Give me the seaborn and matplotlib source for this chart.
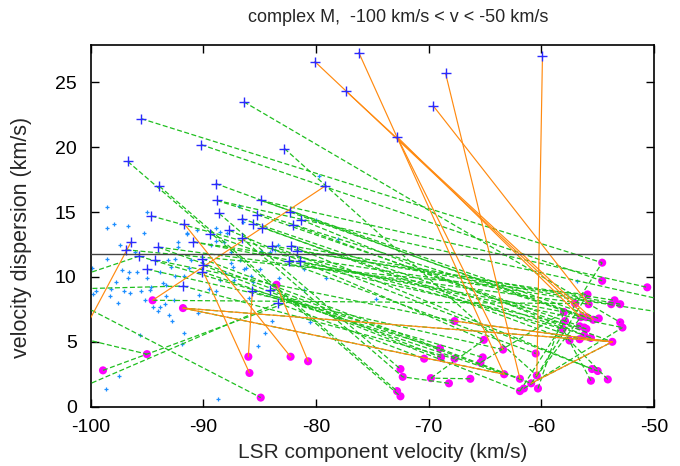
import numpy as np
import pandas as pd
import matplotlib
matplotlib.use("Agg")
import matplotlib.pyplot as plt
import seaborn as sns

# light blue field points (velocity, dispersion)
field_v = [-98.5, -97.9, -98.5, -96.7, -95.3, -95.0, -97.4, -96.1, -98.5, -99.9,
           -97.2, -96.6, -95.9, -97.7, -96.7, -95.0, -99.5, -98.2, -97.0, -95.5,
           -94.6, -93.3, -93.1, -93.8, -92.5, -92.2, -91.4, -90.6, -92.2, -92.9,
           -92.5, -91.3, -91.7, -93.6, -91.1, -99.8, -98.3, -96.5, -97.6, -95.2,
           -94.7, -93.3, -94.5, -93.8, -93.4, -94.0, -93.0, -92.8, -95.6, -91.7,
           -91.9, -92.6, -97.5, -98.6, -88.7, -90.5, -85.9, -83.9, -84.5, -85.1,
           -80.5, -81.1, -86.8, -80.0, -88.2, -87.5, -84.9, -84.1, -83.6, -83.4,
           -86.7, -87.4, -86.4, -85.0, -88.1, -87.3, -85.8, -83.3, -79.1, -78.0,
           -81.1, -88.5, -87.5, -86.2, -85.6, -74.7, -89.3, -88.9, -91.4, -88.9,
           -88.5, -87.9, -79.7, -86.5, -56.8, -89.5, -90.4, -88.9]
field_s = [15.4, 14.1, 13.8, 13.9, 13.4, 15.0, 12.5, 11.9, 11.4, 10.7,
           10.5, 10.4, 10.4, 9.6, 9.9, 9.9, 8.9, 9.1, 8.9, 8.9,
           9.2, 9.4, 11.3, 10.4, 11.4, 12.7, 13.4, 13.6, 12.3, 10.8,
           10.1, 10.7, 10.1, 9.5, 11.3, 8.7, 8.5, 8.8, 8.0, 8.2,
           9.0, 8.5, 7.7, 7.7, 7.9, 7.4, 7.1, 6.6, 5.5, 5.7,
           4.8, 8.2, 2.4, 1.4, 0.6, 7.2, 8.4, 6.6, 5.7, 4.7,
           6.5, 9.0, 15.5, 14.4, 12.7, 11.9, 12.0, 11.9, 12.1, 12.5,
           11.3, 10.8, 10.6, 10.6, 10.3, 9.8, 10.1, 9.9, 9.9, 12.9,
           10.6, 9.8, 11.1, 10.7, 9.6, 8.3, 12.5, 12.8, 13.3, 13.8,
           13.5, 13.4, 17.8, 14.2, 9.7, 9.1, 8.6, 8.9]

# first-epoch components (dark blue crosses)
start_v = [-80.1, -76.2, -77.3, -86.4, -95.5, -90.2, -82.8, -96.7, -88.9, -93.9,
           -79.2, -88.8, -84.9, -94.6, -88.6, -85.2, -82.3, -86.6, -81.3, -85.6,
           -84.8, -82.0, -91.7, -89.4, -87.7, -86.6, -59.9, -68.5, -69.6, -72.8,
           -96.4, -96.9, -94.0, -95.7, -95.0, -94.3, -90.9, -90.1, -90.0, -90.1,
           -91.8, -83.9, -82.2, -81.7, -82.4, -81.4, -85.7, -84.1, -83.4]
start_s = [26.6, 27.3, 24.3, 23.5, 22.2, 20.2, 19.9, 18.9, 17.2, 17.0,
           17.0, 15.9, 15.9, 14.7, 14.9, 14.8, 15.0, 14.5, 14.4, 14.1,
           13.8, 14.0, 14.1, 13.3, 13.6, 13.0, 27.0, 25.7, 23.2, 20.8,
           12.7, 12.1, 12.3, 11.6, 10.6, 11.3, 12.7, 11.4, 10.9, 10.4,
           9.3, 12.4, 12.4, 12.0, 11.2, 11.2, 8.9, 9.0, 8.0]

# second-epoch components (magenta dots)
end_v = [-94.5, -91.8, -83.5, -95.0, -98.9, -86.0, -85.9, -82.25, -80.7, -84.9,
         -67.7, -65.1, -63.4, -69.0, -68.9, -70.4, -67.7, -65.2, -65.4, -60.5,
         -63.3, -61.9, -60.4, -60.9, -61.9, -61.55, -60.3, -69.8, -68.2, -66.3,
         -72.5, -72.3, -72.8, -72.5,
         -54.6, -54.6, -50.6, -55.9, -57.0, -55.8, -53.5, -53.8, -53.0, -58.0,
         -57.9, -56.5, -56.0, -55.4, -54.9, -53.0, -52.8, -58.1, -56.6, -56.2,
         -56.0, -56.2, -55.6, -57.5, -56.6, -53.7, -55.5, -55.0, -55.6, -54.1]
end_s = [8.2, 7.6, 9.4, 4.05, 2.8, 3.85, 2.6, 3.85, 3.5, 0.7,
         6.6, 5.15, 4.4, 4.5, 3.8, 3.7, 3.7, 3.8, 3.4, 4.1,
         2.5, 2.15, 2.4, 1.8, 1.2, 1.4, 1.4, 2.2, 1.8, 2.15,
         2.9, 2.3, 1.2, 0.8,
         11.1, 9.7, 9.2, 8.65, 7.95, 7.9, 8.2, 7.9, 7.9, 7.3,
         6.6, 6.9, 6.9, 6.7, 6.8, 6.5, 6.1, 6.0, 6.2, 6.1,
         6.0, 5.5, 5.3, 5.1, 5.2, 5.0, 2.9, 2.75, 2.0, 2.1]

# matched pairs (dashed green)
green_v0 = [-95.5, -90.2, -86.4, -82.8, -96.7, -93.9, -88.9, -88.8, -84.9, -94.6,
            -88.6, -85.2, -82.3, -86.6, -81.3, -85.6, -84.8, -82.0, -89.4, -87.7,
            -86.6, -96.9, -94.0, -95.7, -95.0, -94.3, -90.9, -90.1, -90.0, -91.8,
            -83.9, -82.2, -81.7, -82.4, -81.4, -83.9, -82.2, -85.7, -84.1, -83.4,
            -94.5, -100.5, -100.5, -100.5, -100.5, -100.5, -98.9, -61.9, -60.4, -60.3,
            -60.9, -69.8, -68.2, -54.1, -55.6, -61.55, -65.4, -66.3, -90.1, -94.0,
            -88.8, -90.9, -84.9, -91.8, -91.8, -67.7, -60.9]
green_s0 = [22.2, 20.2, 23.5, 19.9, 18.9, 17.0, 17.2, 15.9, 15.9, 14.7,
            14.9, 14.8, 15.0, 14.5, 14.4, 14.1, 13.8, 14.0, 13.3, 13.6,
            13.0, 12.1, 12.3, 11.6, 10.6, 11.3, 12.7, 11.4, 10.9, 9.3,
            12.4, 12.4, 12.0, 11.2, 11.2, 12.4, 12.4, 8.9, 9.0, 8.0,
            8.2, 9.1, 10.2, 7.7, 5.2, 1.6, 2.8, 1.2, 2.4, 1.4,
            1.8, 2.2, 1.8, 2.1, 2.0, 1.4, 3.4, 2.15, 10.4, 12.3,
            15.9, 12.7, 15.9, 7.6, 7.6, 6.6, 1.8]
green_v1 = [-54.6, -54.6, -53.0, -60.4, -72.5, -72.8, -56.5, -56.0, -54.9, -58.1,
            -72.5, -56.2, -55.4, -56.2, -55.6, -57.5, -56.6, -53.7, -60.5, -65.1,
            -72.3, -55.9, -55.8, -65.2, -63.4, -67.7, -58.0, -61.9, -61.9, -67.7,
            -53.8, -53.0, -53.5, -56.0, -52.8, -55.0, -55.5, -69.0, -68.9, -70.4,
            -57.0, -91.8, -95.7, -84.9, -95.0, -83.4, -81.4, -54.6, -55.9, -58.0,
            -56.5, -65.1, -72.3, -57.5, -58.1, -52.8, -58.0, -69.8, -63.3, -60.9,
            -48.0, -48.0, -50.6, -53.7, -63.3, -53.7, -53.7]
green_s1 = [11.1, 9.7, 6.5, 2.4, 0.8, 1.2, 6.9, 6.9, 6.8, 6.0,
            2.9, 6.1, 6.7, 5.5, 5.3, 5.1, 5.2, 5.0, 4.1, 5.15,
            2.3, 8.65, 7.9, 3.8, 4.4, 6.6, 7.3, 2.15, 1.2, 3.7,
            7.9, 7.9, 8.2, 6.0, 6.1, 2.75, 2.9, 4.5, 3.8, 3.7,
            7.95, 9.3, 11.6, 0.7, 4.05, 8.0, 8.4, 11.1, 8.65, 7.3,
            6.9, 5.15, 2.3, 5.1, 6.0, 6.1, 7.3, 2.2, 2.5, 1.8,
            8.0, 7.1, 9.2, 5.0, 2.5, 5.0, 5.0]

# matched pairs (solid orange)
orange_v0 = [-80.1, -77.3, -72.8, -72.8, -76.2, -68.5, -69.6, -59.9, -96.4, -94.5,
             -91.7, -90.0, -85.65, -83.5, -91.8, -91.8, -67.7, -60.9]
orange_s0 = [26.6, 24.3, 20.8, 20.8, 27.3, 25.7, 23.2, 27.0, 12.7, 8.2,
             14.1, 10.4, 8.85, 9.4, 7.6, 7.6, 6.6, 1.8]
orange_v1 = [-56.0, -55.4, -56.5, -63.4, -63.3, -61.9, -55.8, -60.4, -101.0, -79.2,
             -82.25, -85.9, -86.0, -80.7, -53.7, -63.3, -53.7, -53.7]
orange_s1 = [6.9, 6.7, 6.9, 4.4, 2.5, 2.15, 7.9, 2.4, 5.2, 17.0,
             3.85, 2.6, 3.85, 3.5, 5.0, 2.5, 5.0, 5.0]

threshold = 11.8


def segments(v0, s0, v1, s1):
    n = len(v0)
    return pd.DataFrame({
        "seg": np.repeat(np.arange(n), 2),
        "v": np.column_stack([v0, v1]).ravel(),
        "s": np.column_stack([s0, s1]).ravel(),
    })


sns.set_style("ticks")
plt.rcParams["font.family"] = ["Liberation Sans", "DejaVu Sans"]
plt.rcParams["axes.unicode_minus"] = False

fig = plt.figure(figsize=(6.8, 4.66), dpi=100)
ax = fig.add_axes([0.1332, 0.1273, 0.8286, 0.7767])

sns.scatterplot(x=field_v, y=field_s, marker="+", s=7, color="#1e8fff",
                linewidth=0.9, ax=ax, zorder=2)
sns.scatterplot(x=end_v, y=end_s, marker="o", s=34, color="#ff00ff",
                edgecolor="none", ax=ax, zorder=3)

green_df = segments(green_v0, green_s0, green_v1, green_s1)
sns.lineplot(data=green_df, x="v", y="s", units="seg", estimator=None, sort=False,
             color="#1fbf1f", linewidth=0.9, linestyle=(0, (4, 2)), ax=ax, zorder=4)
orange_df = segments(orange_v0, orange_s0, orange_v1, orange_s1)
sns.lineplot(data=orange_df, x="v", y="s", units="seg", estimator=None, sort=False,
             color="#ff8a10", linewidth=0.85, ax=ax, zorder=5)

sns.scatterplot(x=start_v, y=start_s, marker="+", s=45, color="#2a2aff",
                linewidth=1.0, ax=ax, zorder=6)

ax.axhline(threshold, color="#444444", linewidth=1.0, zorder=7)

ax.set_xlim(-100, -50)
ax.set_ylim(0, 27.9)
ax.set_xticks(range(-100, -49, 10))
ax.set_yticks(range(0, 26, 5))
ax.tick_params(direction="in", top=True, right=True, length=6, width=1,
               labelsize=14, colors="black")
ax.tick_params(axis="x", pad=9)
ax.tick_params(axis="y", pad=10)
for sp in ax.spines.values():
    sp.set_visible(True)
    sp.set_linewidth(1.2)
    sp.set_color("black")

ax.set_xlabel("")
ax.set_ylabel("")
fig.text(0.563, 0.030, "LSR component velocity (km/s)", fontsize=15,
         ha="center", va="center")
fig.text(0.032, 0.49, "velocity dispersion (km/s)", fontsize=15.5,
         ha="center", va="center", rotation=90)
fig.text(0.585, 0.9635, "complex M,  -100 km/s < v < -50 km/s", fontsize=13,
         ha="center", va="center")

fig.savefig("out.png", dpi=100)
